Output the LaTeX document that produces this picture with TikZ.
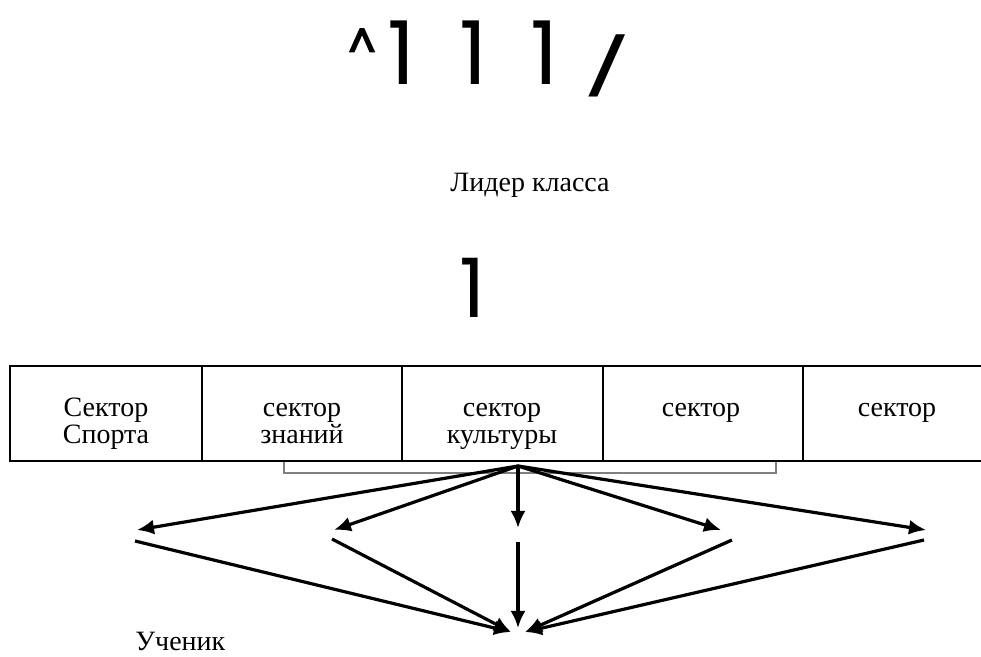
\documentclass[tikz,border=0pt]{standalone}
\usepackage{fontspec}
\setmainfont{Liberation Serif}
\newfontfamily\glyphfont{Poppins}
\newfontfamily\caretfont[FakeBold=3]{Poppins}
\newcommand\cellfont{\fontsize{14}{13.5}\selectfont\lineskiplimit=-10pt\relax}
\usetikzlibrary{arrows.meta}
\tikzset{>={Latex[length=8.5pt,width=7.5pt]}}
\tikzset{
  cell/.style={anchor=north, align=center, inner sep=0pt, font=\cellfont},
  label/.style={inner sep=0pt, font=\fontsize{14}{12}\selectfont},
  big/.style={inner sep=0pt, font=\glyphfont\fontsize{44}{44}\selectfont},
  tbl/.style={line width=1.25pt},
  arr/.style={line width=1.6pt, ->}
}

\begin{document}
\begin{tikzpicture}[x=0.5pt, y=-0.5pt]
\useasboundingbox (0,0) rectangle (981,657);
% top glyphs
\node[inner sep=0pt, font=\caretfont\fontsize{22}{22}\selectfont] (caret) at (362,44) {\^{}};
\node[big, anchor=base] (oneA) at (402,85) {1};
\node[big, anchor=base] (oneB) at (474,85) {1};
\node[big, anchor=base] (oneC) at (545,85) {1};
\node[inner sep=0pt, font=\glyphfont\fontsize{28}{28}\selectfont, xscale=1.8, transform shape] (slash) at (607,66) {/};
\node[label, anchor=base] (leader) at (530,192) {Лидер класса};
\node[inner sep=0pt, font=\glyphfont\fontsize{41}{41}\selectfont, anchor=base] (oneD) at (473,318) {1};
% table
\draw[tbl] (981,366) -- (10,366) -- (10,461) -- (981,461);
\foreach \x in {202,402,603,803}
  \draw[tbl] (\x,366) -- (\x,461);
\node[cell] (sport) at (106,397) {\strut Сектор\\Спорта};
\node[cell] (know) at (302,397) {\strut сектор\\знаний};
\node[cell] (cult) at (502,397) {\strut сектор\\культуры};
\node[cell] (secD) at (701,397) {\strut сектор};
\node[cell] (secE) at (897,397) {\strut сектор};
\draw[gray, line width=1pt] (284,462) -- (284,473) -- (776,473) -- (776,462);
% arrows down
\coordinate (src) at (518,466);
\coordinate (tA) at (137,530);
\coordinate (tB) at (334,530);
\coordinate (tC) at (518,528);
\coordinate (tD) at (721,530);
\coordinate (tE) at (926,530);
\draw[arr] (src) -- (tA);
\draw[arr] (src) -- (tB);
\draw[arr] (src) -- (tC);
\draw[arr] (src) -- (tD);
\draw[arr] (src) -- (tE);
% lines to the pupil
\coordinate (rA) at (135,541);
\coordinate (rB) at (332,539);
\coordinate (rC) at (518,542);
\coordinate (rD) at (732,540);
\coordinate (rE) at (924,540);
\coordinate (stL) at (511,632);
\coordinate (stC) at (518,628);
\coordinate (stR) at (525,632);
\draw[arr] (rA) -- (stL);
\draw[arr] (rB) -- (stL);
\draw[arr] (rC) -- (stC);
\draw[arr] (rD) -- (stR);
\draw[arr] (rE) -- (stR);
\node[label, anchor=base west] (pupil) at (135,651) {Ученик};
\end{tikzpicture}
\end{document}
